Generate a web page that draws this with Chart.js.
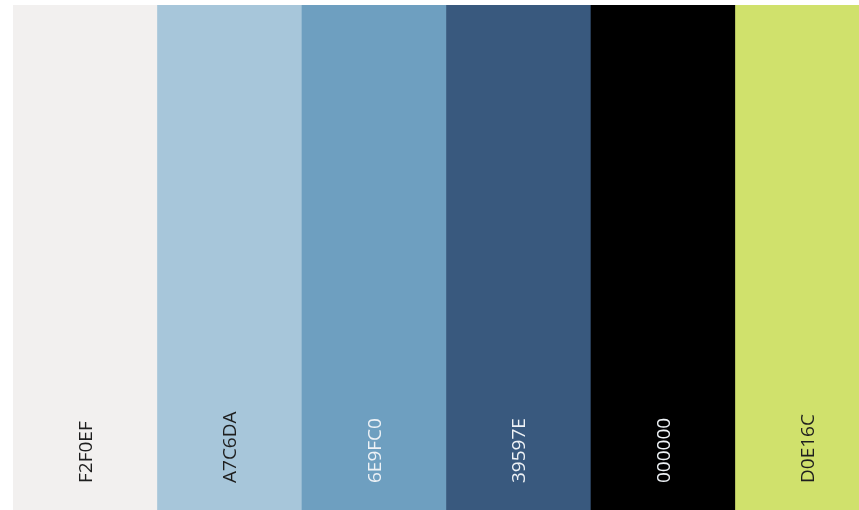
<!DOCTYPE html>
<html lang="en">
<head>
    <meta charset="UTF-8">
    <title>Palette</title>
    <script src="https://cdn.jsdelivr.net/npm/chart.js"></script>
    <style>
        html, body { margin: 0; padding: 0; background: #fff; overflow: hidden; }
        #wrap { width: 880px; height: 510px; }
    </style>
</head>
<body>
    <div id="wrap"><canvas id="paletteChart"></canvas></div>
    <script>
        // palette swatches, left to right
        const swatchCodes = ['F2F0EF', 'A7C6DA', '6E9FC0', '39597E', '000000', 'D0E16C'];
        const swatchValues = [1, 1, 1, 1, 1, 1];
        const labelColors = ['#1e1e1e', '#1e1e1e', '#eef2f6', '#eef2f6', '#eef2f6', '#1e1e1e'];

        // writes the hex code up the bottom of each bar
        const codeLabels = {
            id: 'codeLabels',
            afterDatasetsDraw(chart) {
                const ctx = chart.ctx;
                const meta = chart.getDatasetMeta(0);
                ctx.save();
                ctx.font = '19px "Open Sans"';
                ctx.textAlign = 'left';
                ctx.textBaseline = 'middle';
                meta.data.forEach((bar, i) => {
                    ctx.save();
                    ctx.translate(bar.x + 1, 483);
                    ctx.rotate(-Math.PI / 2);
                    ctx.fillStyle = labelColors[i];
                    ctx.fillText(swatchCodes[i], 0, 0);
                    ctx.restore();
                });
                ctx.restore();
            }
        };

        const ctx = document.getElementById('paletteChart').getContext('2d');
        new Chart(ctx, {
            type: 'bar',
            data: {
                labels: swatchCodes,
                datasets: [{
                    data: swatchValues,
                    backgroundColor: swatchCodes.map(c => '#' + c),
                    borderWidth: 0,
                    barPercentage: 1,
                    categoryPercentage: 1
                }]
            },
            options: {
                responsive: true,
                maintainAspectRatio: false,
                animation: false,
                layout: { padding: { left: 13, top: 5, right: 0, bottom: 0 } },
                plugins: { legend: { display: false }, tooltip: { enabled: false } },
                scales: {
                    x: { display: false },
                    y: { display: false, min: 0, max: 1 }
                }
            },
            plugins: [codeLabels]
        });
    </script>
</body>
</html>
